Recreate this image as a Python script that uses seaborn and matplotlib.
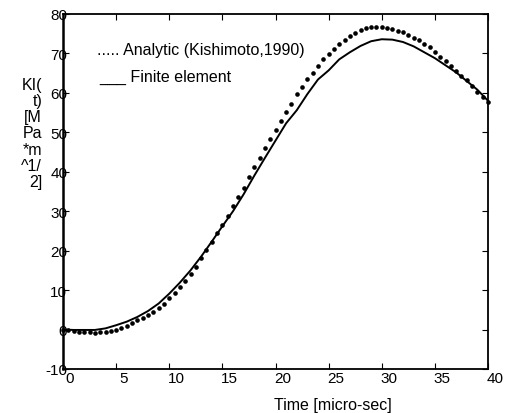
import numpy as np
import pandas as pd
import matplotlib
matplotlib.use("Agg")
import matplotlib.pyplot as plt
import matplotlib.transforms as mtransforms
import seaborn as sns

# Analytic solution (Kishimoto, 1990), sampled every 0.5 micro-sec
t_analytic = [i * 0.5 for i in range(81)]
k_analytic = [
    0.0, -0.2, -0.4, -0.5, -0.5, -0.6, -0.8, -0.7, -0.5, -0.3,
    0.0, 0.5, 1.0, 1.6, 2.3, 2.9, 3.6, 4.5, 5.5, 6.6,
    8.0, 9.3, 10.8, 12.3, 14.0, 15.9, 18.1, 20.2, 22.3, 24.4,
    26.6, 28.9, 31.3, 33.7, 36.0, 38.6, 41.2, 43.6, 46.0, 48.2,
    50.6, 53.0, 55.2, 57.3, 59.8, 61.6, 63.5, 65.1, 66.9, 68.5,
    69.9, 71.1, 72.3, 73.5, 74.4, 75.3, 75.9, 76.4, 76.6, 76.7,
    76.7, 76.5, 76.2, 75.8, 75.4, 74.8, 74.0, 73.3, 72.4, 71.6,
    70.4, 69.1, 68.0, 66.9, 65.6, 64.3, 63.2, 61.8, 60.3, 59.0,
    57.6,
]

# Finite element result, every 1 micro-sec
t_fem = list(range(41))
k_fem = [
    0.0, -0.1, -0.1, -0.1, 0.3, 1.1, 2.0, 3.2, 4.7, 6.6,
    9.1, 11.9, 15.0, 18.5, 22.3, 26.2, 30.0, 34.3, 39.0, 43.5,
    47.9, 52.3, 55.6, 59.7, 63.4, 65.7, 68.5, 70.3, 71.9, 73.1,
    73.6, 73.5, 72.9, 71.8, 70.3, 68.8, 67.0, 65.2, 63.0, 60.8,
    58.0,
]

x_ticks = [0, 5, 10, 15, 20, 25, 30, 35, 40]
y_ticks = [-10, 0, 10, 20, 30, 40, 50, 60, 70, 80]

analytic = pd.DataFrame({"t": t_analytic, "k": k_analytic})
fem = pd.DataFrame({"t": t_fem, "k": k_fem})

sns.set_theme(style="white")
plt.rcParams["font.family"] = ["Liberation Sans", "DejaVu Sans"]
plt.rcParams["axes.unicode_minus"] = False

fig = plt.figure(figsize=(5.1, 4.14), dpi=100)
ax = fig.add_axes([63 / 510, 1 - 370 / 414, 425 / 510, 355 / 414])

sns.scatterplot(data=analytic, x="t", y="k", ax=ax, color="black",
                s=11, linewidth=0, zorder=3, clip_on=False)
sns.lineplot(data=fem, x="t", y="k", ax=ax, color="black",
             linewidth=1.4, zorder=2)

ax.set_xlim(0, 40)
ax.set_ylim(-10, 80)
ax.set_xticks(x_ticks)
ax.set_yticks(y_ticks)

for side in ["left", "right", "top", "bottom"]:
    ax.spines[side].set_color("black")
    ax.spines[side].set_linewidth(1.3)
ax.spines["left"].set_linewidth(1.8)

ax.tick_params(axis="both", direction="in", length=4, width=0.8,
               color="black", labelsize=11, labelcolor="black",
               top=True, right=True, bottom=True, left=True)
ax.tick_params(axis="y", pad=-3)
ax.tick_params(axis="x", pad=1.5)

# tick labels on x sit a bit to the right of their ticks
shift = mtransforms.ScaledTranslation(7 / 100, 0, fig.dpi_scale_trans)
for lbl in ax.get_xticklabels():
    lbl.set_transform(lbl.get_transform() + shift)

ax.set_xlabel("Time [micro-sec]", fontsize=11.5, color="black", va="center")
ax.xaxis.set_label_coords(0.635, -0.099)
ax.set_ylabel("KI(\nt)\n[M\nPa\n*m\n^1/\n2]", fontsize=11.5, color="black",
              rotation=0, ha="right", va="center", multialignment="right",
              linespacing=1.1)
ax.yaxis.set_label_coords(-0.049, 0.665)

# legend is plain text in the original
ax.text(0.08, 0.899, "..... Analytic (Kishimoto,1990)", transform=ax.transAxes,
        fontsize=11.5, va="center", ha="left", color="black")
ax.text(0.085, 0.803, "___ Finite element", transform=ax.transAxes,
        fontsize=11.5, va="bottom", ha="left", color="black")

fig.savefig("out.png", dpi=100)
